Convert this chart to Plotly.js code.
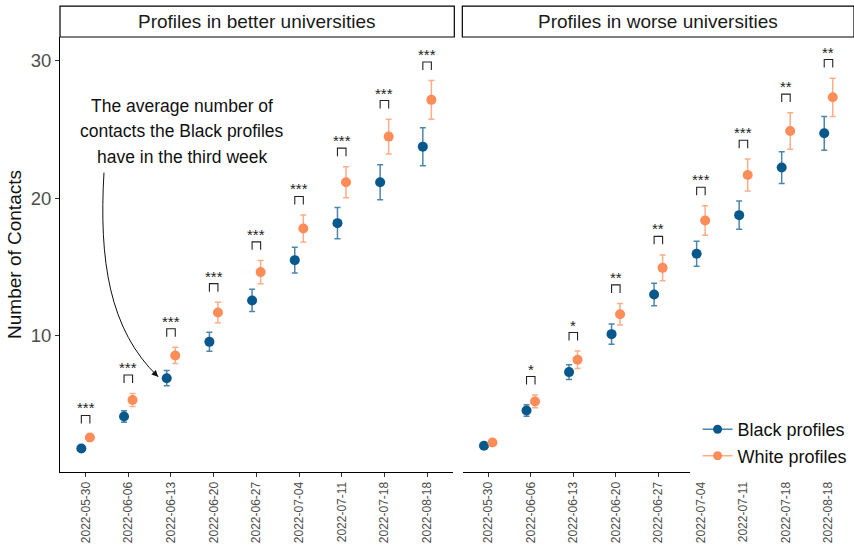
<!DOCTYPE html>
<html>
<head>
<meta charset="utf-8">
<script src="https://cdn.plot.ly/plotly-3.0.1.min.js"></script>
<style>html,body{margin:0;padding:0;background:#fff;}#chart{width:854px;height:546px;}</style>
</head>
<body>
<div id="chart"></div>
<script>
// ---- data ----
const weeks = ['2022-05-30','2022-06-06','2022-06-13','2022-06-20','2022-06-27','2022-07-04','2022-07-11','2022-07-18','2022-08-18'];
const panelTitles = ['Profiles in better universities', 'Profiles in worse universities'];
const seriesNames = ['Black profiles', 'White profiles'];

const betterBlack    = [1.81, 4.14, 6.92, 9.56, 12.57, 15.50, 18.19, 21.16, 23.75];
const betterBlackErr = [0.20, 0.42, 0.55, 0.69, 0.81, 0.94, 1.14, 1.27, 1.38];
const betterWhite    = [2.61, 5.33, 8.57, 11.69, 14.63, 17.80, 21.16, 24.48, 27.15];
const betterWhiteErr = [0.25, 0.47, 0.59, 0.75, 0.85, 0.98, 1.13, 1.27, 1.40];
const betterSig      = ['***','***','***','***','***','***','***','***','***'];

const worseBlack     = [2.01, 4.57, 7.36, 10.12, 13.00, 15.96, 18.77, 22.23, 24.72];
const worseBlackErr  = [0.20, 0.42, 0.54, 0.73, 0.82, 0.91, 1.03, 1.15, 1.23];
const worseWhite     = [2.25, 5.23, 8.26, 11.57, 14.94, 18.38, 21.69, 24.89, 27.34];
const worseWhiteErr  = [0.20, 0.46, 0.63, 0.78, 0.94, 1.07, 1.17, 1.33, 1.39];
const worseSig       = ['','*','*','**','**','***','***','**','**'];

const noteLines = ['The average number of', 'contacts the Black profiles', 'have in the third week'];

// ---- styling ----
const FONT = 'Liberation Sans, Arial, Helvetica, sans-serif';
const BLUE = '#08588c', BLUE_ERR = 'rgba(8,88,140,0.72)';
const ORANGE = '#fc8d59', ORANGE_ERR = 'rgba(252,141,89,0.72)';
const DODGE = 0.1;

const idx = weeks.map((_, i) => i);
const xs = off => idx.map(i => i + off);

function pts(y, err, off, color, ecolor, xa, ya) {
  return {
    type: 'scatter', mode: 'markers', x: xs(off), y: y,
    xaxis: xa, yaxis: ya, showlegend: false, hoverinfo: 'skip',
    marker: {color: color, size: 10},
    error_y: {type: 'data', array: err, visible: true, color: ecolor, thickness: 1.5, width: 3}
  };
}

const traces = [
  pts(betterBlack, betterBlackErr, -DODGE, BLUE, BLUE_ERR, 'x', 'y'),
  pts(betterWhite, betterWhiteErr, DODGE, ORANGE, ORANGE_ERR, 'x', 'y'),
  pts(worseBlack, worseBlackErr, -DODGE, BLUE, BLUE_ERR, 'x2', 'y2'),
  pts(worseWhite, worseWhiteErr, DODGE, ORANGE, ORANGE_ERR, 'x2', 'y2'),
  {type:'scatter', mode:'lines+markers', x:[null], y:[null], xaxis:'x2', yaxis:'y2', name: seriesNames[0],
   line:{color:BLUE_ERR, width:1.5}, marker:{color:BLUE, size:9}},
  {type:'scatter', mode:'lines+markers', x:[null], y:[null], xaxis:'x2', yaxis:'y2', name: seriesNames[1],
   line:{color:ORANGE_ERR, width:1.5}, marker:{color:ORANGE, size:9}}
];

const shapes = [];
const annotations = [];

// significance brackets
function brackets(white, werr, sig, xa, ya) {
  sig.forEach((s, i) => {
    if (!s) return;
    const top = white[i] + werr[i] + 1.35;
    const bot = top - 0.58;
    const x0 = i - DODGE, x1 = i + DODGE;
    shapes.push({type:'path', xref:xa, yref:ya,
      path:`M ${x0},${bot} L ${x0},${top} L ${x1},${top} L ${x1},${bot}`,
      line:{color:'#222', width:1.1}});
    annotations.push({xref:xa, yref:ya, x:i, y:top, text:s, showarrow:false,
      yanchor:'bottom', yshift:-3, font:{family:FONT, size:15, color:'#222'}});
  });
}
brackets(betterWhite, betterWhiteErr, betterSig, 'x', 'y');
brackets(worseWhite, worseWhiteErr, worseSig, 'x2', 'y2');

// facet strips
const D1 = [0, 0.4946], D2 = [0.5072, 1];
[[0, 0.4966], [0.5067, 1.0]].forEach((d, k) => {
  shapes.push({type:'rect', xref:'paper', yref:'paper', x0:d[0], x1:d[1], y0:1.0, y1:1.0712,
    line:{color:'black', width:1.2}, fillcolor:'white', layer:'above'});
  annotations.push({xref:'paper', yref:'paper', x:(d[0]+d[1])/2, y:1.0356, text:panelTitles[k],
    showarrow:false, xanchor:'center', yanchor:'middle', font:{family:FONT, size:19, color:'#1a1a1a'}});
});

// white patch behind legend covering the axis line/ticks
shapes.push({type:'rect', xref:'paper', yref:'paper', x0:0.7935, x1:1.0, y0:-0.0135, y1:0.006,
  line:{width:0}, fillcolor:'white', layer:'above'});

// note text
const noteY = [26.71, 24.89, 23.0];
noteLines.forEach((t, k) => {
  annotations.push({xref:'x', yref:'y', x:2.25, y:noteY[k], text:t, showarrow:false,
    xanchor:'center', yanchor:'middle', font:{family:FONT, size:17.5, color:'#111'}});
});
// curved arrow
shapes.push({type:'path', xref:'x', yref:'y',
  path:'M 0.43,21.86 C 0.31,15.52 0.55,10.43 1.70,7.02', line:{color:'#111', width:1}});
annotations.push({xref:'x', yref:'y', x:1.70, y:7.02, ax:-6, ay:-6, text:'', showarrow:true,
  arrowhead:2, arrowsize:1.3, arrowwidth:1, arrowcolor:'#111', standoff:0});

const xBase = {
  range:[-0.6, 8.6], tickvals: idx, ticktext: weeks, tickangle:-90,
  ticks:'outside', ticklen:4, tickcolor:'#333', tickwidth:1,
  showline:true, linecolor:'black', linewidth:1, showgrid:false, zeroline:false,
  tickfont:{family:FONT, size:12, color:'#4d4d4d'}, fixedrange:true
};

const layout = {
  width:854, height:546,
  margin:{l:60, r:0, t:37, b:74},
  paper_bgcolor:'white', plot_bgcolor:'white',
  font:{family:FONT},
  showlegend:true,
  legend:{x:0.803, xanchor:'left', y:0.14, yanchor:'top', bgcolor:'white',
    font:{family:FONT, size:18, color:'#111'}},
  xaxis: Object.assign({}, xBase, {domain:D1, anchor:'y'}),
  xaxis2: Object.assign({}, xBase, {domain:D2, anchor:'y2'}),
  yaxis: {range:[0.1, 31.72], tickvals:[10,20,30], ticks:'outside', ticklen:4, tickcolor:'#333',
    showline:true, linecolor:'black', linewidth:1, showgrid:false, zeroline:false,
    tickfont:{family:FONT, size:18.5, color:'#4d4d4d'},
    title:{text:'Number of Contacts', font:{family:FONT, size:19, color:'#111'}, standoff:4}},
  yaxis2: {range:[0.1, 31.72], anchor:'x2', matches:'y', showticklabels:false, ticks:'',
    showline:false, showgrid:false, zeroline:false},
  shapes: shapes,
  annotations: annotations
};

Plotly.newPlot('chart', traces, layout, {staticPlot:true, displayModeBar:false});
</script>
</body>
</html>
